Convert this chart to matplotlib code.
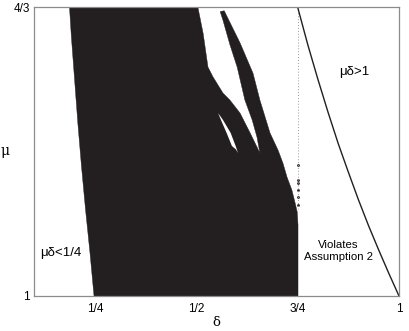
import numpy as np
import matplotlib
matplotlib.use('Agg')
import matplotlib.pyplot as plt

# outline of the black region (delta, mu)
region_delta = [0.248, 0.238, 0.227, 0.217, 0.208, 0.200, 0.192, 0.1875,
                0.504, 0.517, 0.529, 0.541, 0.566, 0.583, 0.608, 0.633, 0.657,
                0.650, 0.638, 0.620, 0.601, 0.583, 0.566, 0.559,
                0.569, 0.608, 0.640, 0.657, 0.682, 0.702, 0.714, 0.724,
                0.736, 0.744, 0.749, 0.751, 0.751]
region_mu = [1.0, 1.05, 1.10, 1.15, 1.20, 1.25, 1.30, 1.3333,
             1.3333, 1.303, 1.264, 1.253, 1.234, 1.226, 1.211, 1.188, 1.165,
             1.183, 1.203, 1.226, 1.264, 1.290, 1.318, 1.328,
             1.329, 1.292, 1.257, 1.226, 1.188, 1.168, 1.153, 1.137,
             1.122, 1.107, 1.097, 1.082, 1.0]

# small white gap inside the region
hole_delta = [0.554, 0.566, 0.585, 0.598, 0.603, 0.598, 0.588, 0.575, 0.561]
hole_mu = [1.211, 1.203, 1.188, 1.172, 1.165, 1.169, 1.173, 1.188, 1.203]

# isolated points near delta = 3/4
dots_delta = [0.750, 0.750, 0.750, 0.751, 0.751, 0.750]
dots_mu = [1.151, 1.134, 1.130, 1.122, 1.114, 1.105]

# curve mu*delta = 1
curve_delta = [0.75, 0.775, 0.80, 0.825, 0.85, 0.875, 0.90, 0.925, 0.95, 0.975, 1.0]
curve_mu = [1.3333, 1.290, 1.250, 1.212, 1.176, 1.143, 1.111, 1.081, 1.053, 1.026, 1.0]

xticks = [0.25, 0.5, 0.75, 1.0]
xticklabels = ['1/4', '1/2', '3/4', '1']
yticks = [1.0, 4 / 3]
yticklabels = ['1', '4/3']

black = '#231f20'
plt.rcParams['font.family'] = ['Liberation Sans', 'DejaVu Sans']

fig = plt.figure(figsize=(4.09, 3.31), dpi=100)
ax = fig.add_axes([34 / 409, 35 / 331, 365 / 409, 289 / 331])

ax.fill(region_delta, region_mu, color=black, lw=0.3, ec=black)
ax.fill(hole_delta, hole_mu, color='white', lw=0)
ax.scatter(dots_delta, dots_mu, s=4, color=black, lw=0)
ax.plot([0.75, 0.75], [4 / 3, 1.10], color='#999999', lw=0.7,
        linestyle=(0, (1, 2)))
ax.plot(curve_delta, curve_mu, color=black, lw=1.0)

ax.text(0.167, 1.050, 'μδ<1/4', fontsize=9.5, ha='center', va='center')
ax.text(0.889, 1.258, 'μδ>1', fontsize=9.5, ha='center', va='center')
ax.text(0.850, 1.052, 'Violates\nAssumption 2', fontsize=8.2,
        ha='center', va='center', linespacing=1.15)

ax.set_xlim(0.1, 1.0)
ax.set_ylim(1.0, 4 / 3)
ax.set_xticks(xticks)
ax.set_xticklabels(xticklabels, fontsize=8.5)
ax.set_yticks(yticks)
ax.set_yticklabels(yticklabels, fontsize=8.5)
ax.tick_params(length=0, pad=5)
ax.tick_params(axis='y', pad=3)
ax.set_xlabel('δ', fontsize=9.5, family=['DejaVu Serif'], labelpad=0.5)
ax.set_ylabel('μ', fontsize=10, family=['DejaVu Serif'], rotation=0,
              labelpad=6, va='center')
for s in ax.spines.values():
    s.set_color('#8c8c8c')
    s.set_linewidth(0.9)

fig.savefig('out.png', dpi=100)
